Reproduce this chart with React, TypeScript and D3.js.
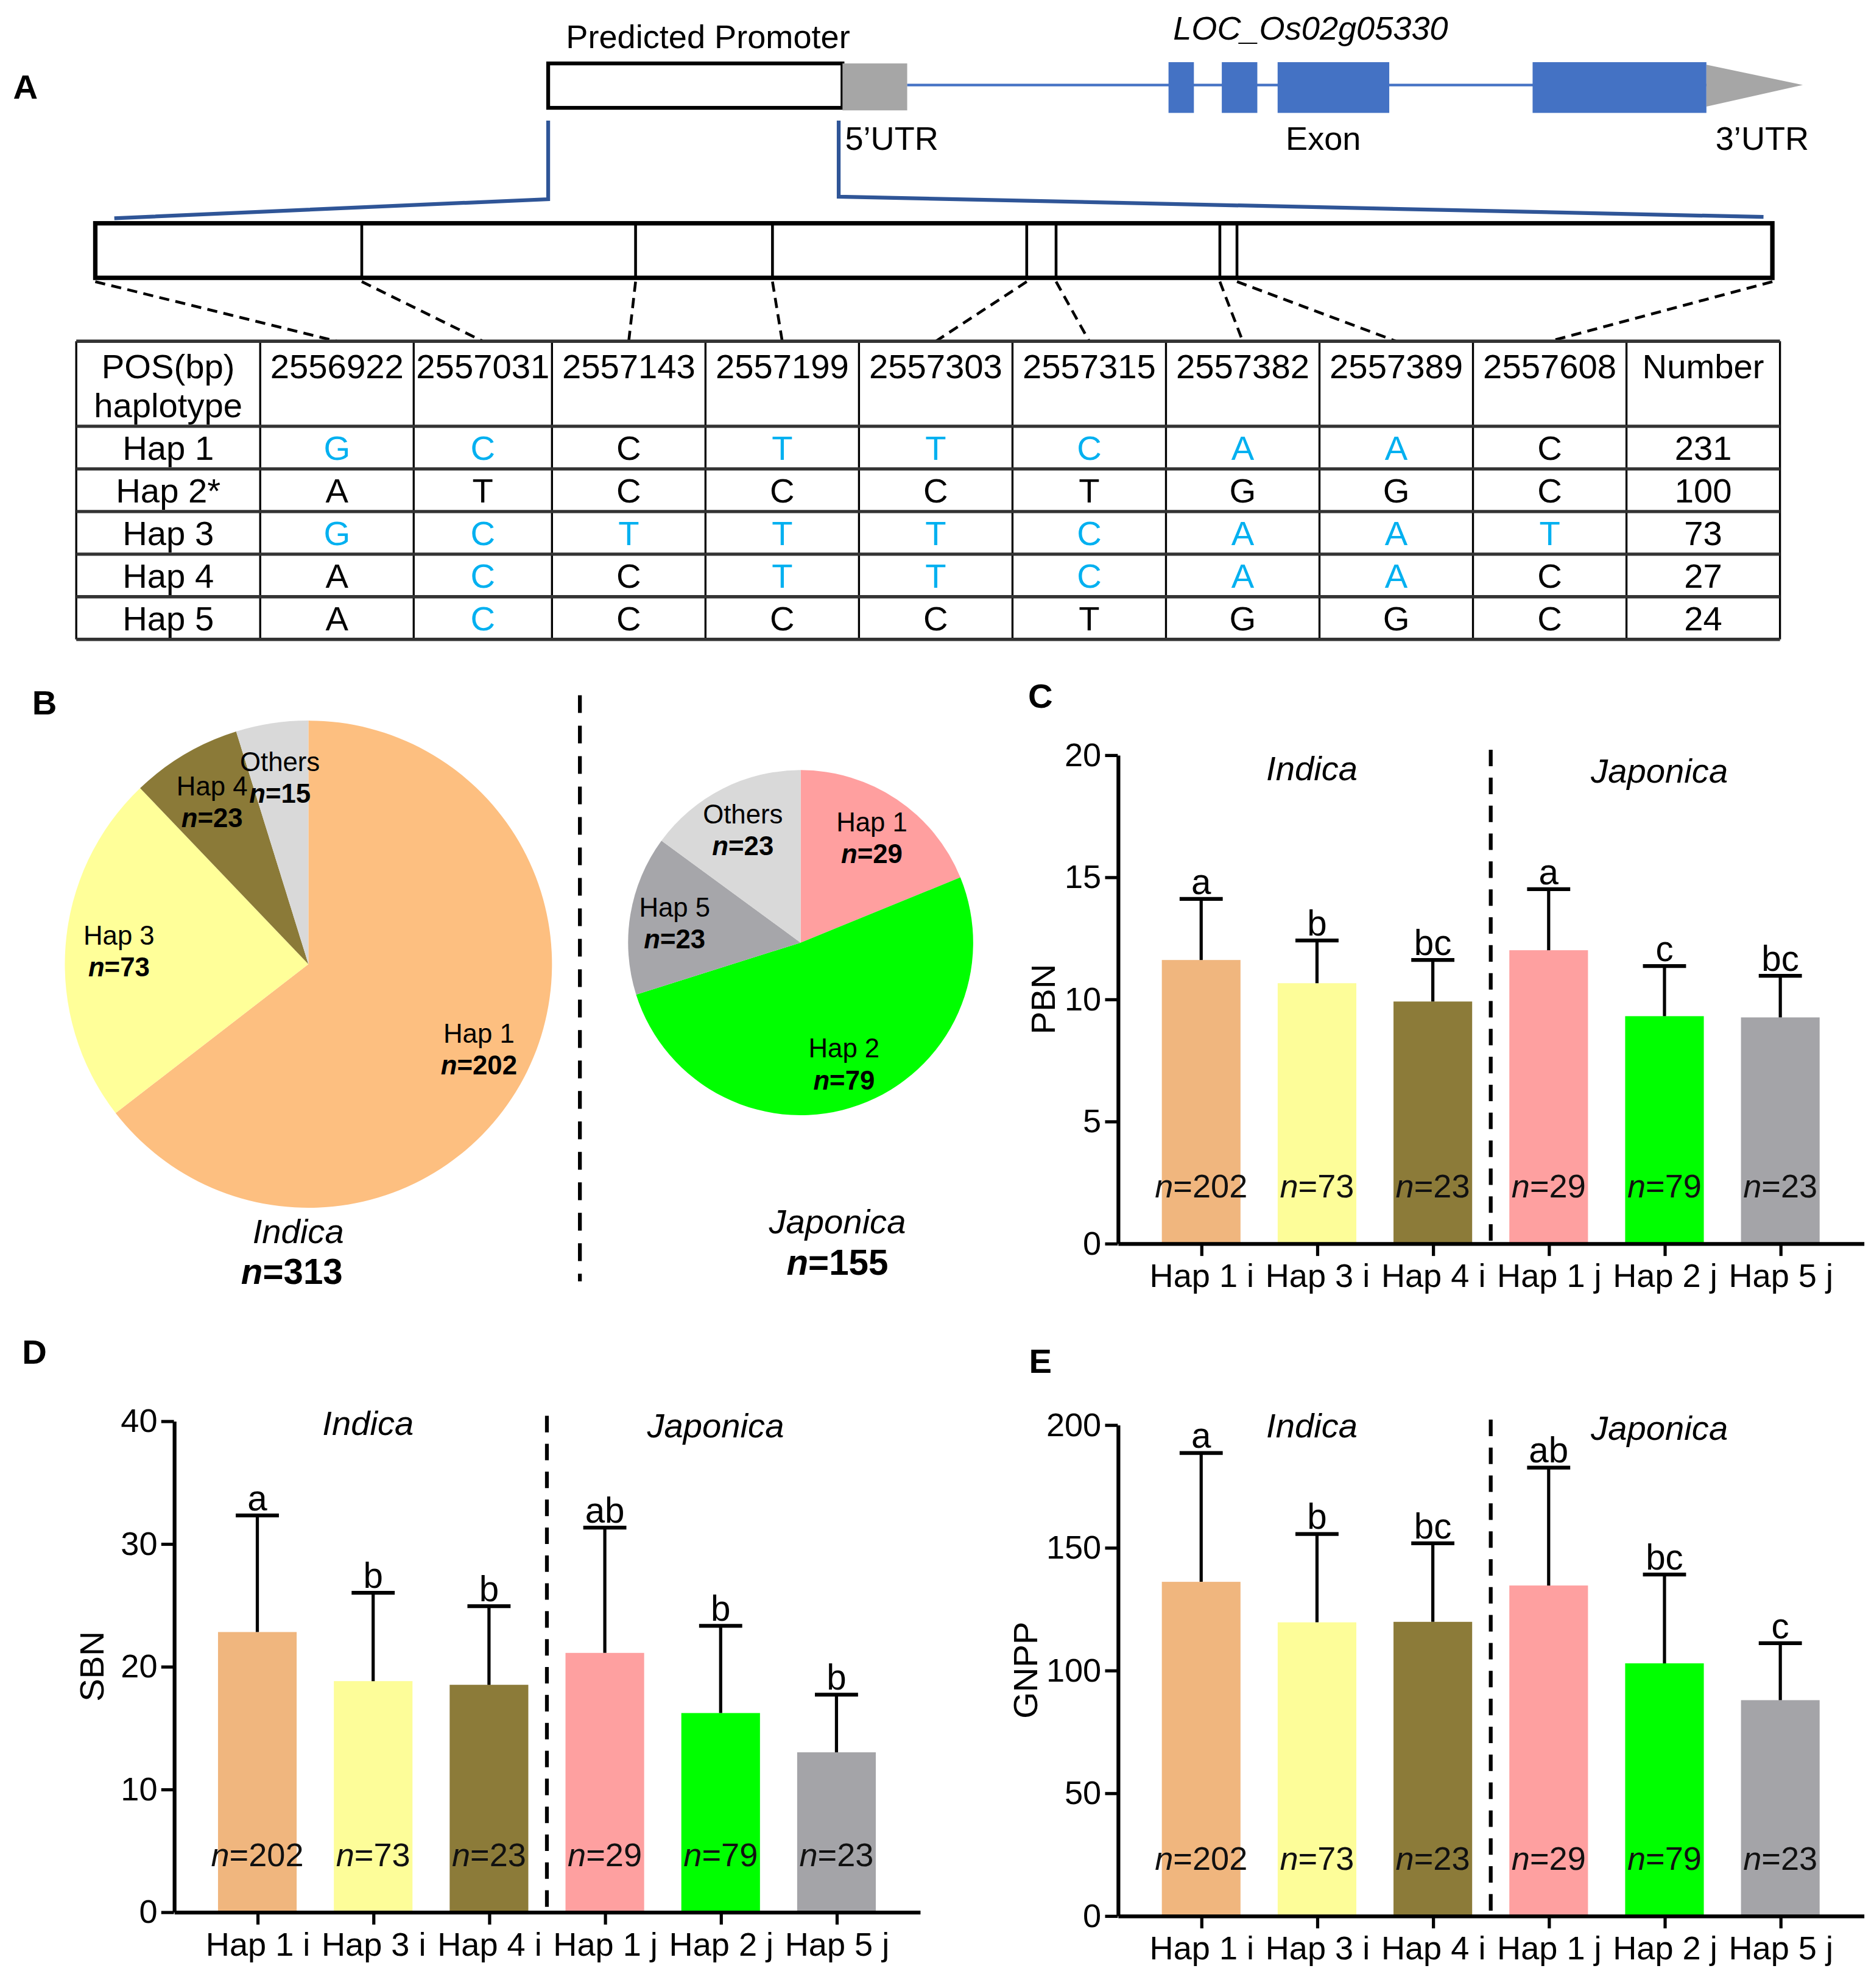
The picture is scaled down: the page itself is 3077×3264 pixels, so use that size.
import React, { useEffect, useRef } from 'react';
import * as d3 from 'd3';

// page is drawn in a 1477 x 1567 box and scaled up to the 3077 x 3264 window
const W = 1477;
const H = 1567;
const FONT = "'Liberation Sans', Arial, sans-serif";
const BLUE_TXT = '#00b0f0';

// ---- panel A: SNP table ----
const positions = [2556922, 2557031, 2557143, 2557199, 2557303, 2557315, 2557382, 2557389, 2557608];
const hapNames = ['Hap 1', 'Hap 2*', 'Hap 3', 'Hap 4', 'Hap 5'];
const hap1 = ['G', 'C', 'C', 'T', 'T', 'C', 'A', 'A', 'C'];
const hap2 = ['A', 'T', 'C', 'C', 'C', 'T', 'G', 'G', 'C'];
const hap3 = ['G', 'C', 'T', 'T', 'T', 'C', 'A', 'A', 'T'];
const hap4 = ['A', 'C', 'C', 'T', 'T', 'C', 'A', 'A', 'C'];
const hap5 = ['A', 'C', 'C', 'C', 'C', 'T', 'G', 'G', 'C'];
const hapCounts = [231, 100, 73, 27, 24];
const refIndex = 1; // Hap 2* is the reference, other alleles in blue

// ---- panel B: pies ----
const indicaLabels = ['Hap 1', 'Hap 3', 'Hap 4', 'Others'];
const indicaCounts = [202, 73, 23, 15];
const indicaColors = ['#fdbf80', '#ffff99', '#8b7a38', '#d9d9d9'];
const japonicaLabels = ['Hap 1', 'Hap 2', 'Hap 5', 'Others'];
const japonicaCounts = [29, 79, 23, 23];
const japonicaColors = ['#ff9f9f', '#00ff00', '#a6a6aa', '#d9d9d9'];

// ---- panels C-E: bars ----
const barCats = ['Hap 1 i', 'Hap 3 i', 'Hap 4 i', 'Hap 1 j', 'Hap 2 j', 'Hap 5 j'];
const barN = [202, 73, 23, 29, 79, 23];
const barColors = ['#f0b67e', '#fdfd99', '#8c7b39', '#fea0a0', '#00ff00', '#a4a4a8'];

const pbnMean = [11.6, 10.65, 9.9, 12.0, 9.3, 9.25];
const pbnSd = [2.5, 1.75, 1.7, 2.5, 2.05, 1.7];
const pbnLetters = ['a', 'b', 'bc', 'a', 'c', 'bc'];

const sbnMean = [22.8, 18.8, 18.5, 21.1, 16.2, 13.0];
const sbnSd = [9.5, 7.2, 6.4, 10.2, 7.1, 4.7];
const sbnLetters = ['a', 'b', 'b', 'ab', 'b', 'b'];

const gnppMean = [136, 119.5, 119.7, 134.5, 102.8, 87.8];
const gnppSd = [52.5, 36, 32, 48, 36.2, 23.2];
const gnppLetters = ['a', 'b', 'bc', 'ab', 'bc', 'c'];

type Sel = d3.Selection<SVGSVGElement, unknown, null, undefined>;

const nText = (sel: any, n: number) => {
  sel.append('tspan').attr('font-style', 'italic').text('n');
  sel.append('tspan').text('=' + n);
};

function drawGene(svg: Sel) {
  const g = svg.append('g');
  g.append('text').attr('x', 20).attr('y', 78).attr('font-size', 27).attr('font-weight', 'bold').attr('text-anchor', 'middle').text('A');

  g.append('rect').attr('x', 432).attr('y', 50).attr('width', 232).attr('height', 35)
    .attr('fill', '#fff').attr('stroke', '#000').attr('stroke-width', 3);
  g.append('rect').attr('x', 664).attr('y', 50).attr('width', 51).attr('height', 37).attr('fill', '#a6a6a6');
  g.append('line').attr('x1', 715).attr('x2', 1345).attr('y1', 67).attr('y2', 67).attr('stroke', '#4472c4').attr('stroke-width', 2);
  const exons = [[921, 941], [963, 991], [1007, 1095], [1208, 1345]];
  g.selectAll('rect.exon').data(exons).enter().append('rect').attr('class', 'exon')
    .attr('x', d => d[0]).attr('width', d => d[1] - d[0]).attr('y', 49).attr('height', 40).attr('fill', '#4472c4');
  g.append('path').attr('d', 'M1345,51 L1345,84 L1421,67 Z').attr('fill', '#a6a6a6');

  g.append('text').attr('x', 558).attr('y', 38).attr('font-size', 26).attr('text-anchor', 'middle').text('Predicted Promoter');
  g.append('text').attr('x', 1033).attr('y', 31).attr('font-size', 26).attr('font-style', 'italic').attr('text-anchor', 'middle').text('LOC_Os02g05330');
  g.append('text').attr('x', 666).attr('y', 118).attr('font-size', 26).text('5’UTR');
  g.append('text').attr('x', 1043).attr('y', 118).attr('font-size', 26).attr('text-anchor', 'middle').text('Exon');
  g.append('text').attr('x', 1389).attr('y', 118).attr('font-size', 26).attr('text-anchor', 'middle').text('3’UTR');

  // zoom connectors
  g.append('path').attr('d', 'M432,95 V157 L90,172').attr('fill', 'none').attr('stroke', '#2f5597').attr('stroke-width', 3);
  g.append('path').attr('d', 'M661,95 V155 L1390,171').attr('fill', 'none').attr('stroke', '#2f5597').attr('stroke-width', 3);

  // promoter box with SNP positions
  const px = d3.scaleLinear().domain([positions[0], positions[positions.length - 1]]).range([75, 1397]);
  g.append('rect').attr('x', px(positions[0])).attr('y', 176).attr('width', px(positions[8]) - px(positions[0])).attr('height', 43)
    .attr('fill', '#fff').attr('stroke', '#000').attr('stroke-width', 3.5);
  g.selectAll('line.snp').data(positions.slice(1, -1)).enter().append('line').attr('class', 'snp')
    .attr('x1', d => px(d)).attr('x2', d => px(d)).attr('y1', 176).attr('y2', 219).attr('stroke', '#000').attr('stroke-width', 2.2);
  return px;
}

function drawTable(svg: Sel, px: d3.ScaleLinear<number, number>) {
  const g = svg.append('g');
  const colW = [145, 121, 109, 121, 121, 121, 121, 121, 121, 121, 121];
  const edges = [60];
  colW.forEach(w => edges.push(edges[edges.length - 1] + w));
  const cx = (i: number) => (edges[i] + edges[i + 1]) / 2;
  const top = 269, headBottom = 336, bottom = 504;
  const rows = d3.scaleBand<string>().domain(hapNames).range([headBottom, bottom]);

  // dashed leaders from the promoter box to columns
  g.selectAll('line.lead').data(positions).enter().append('line').attr('class', 'lead')
    .attr('x1', d => px(d)).attr('y1', 222).attr('x2', (d, i) => cx(i + 1)).attr('y2', top)
    .attr('stroke', '#000').attr('stroke-width', 2.2).attr('stroke-dasharray', '8,5');

  // grid
  edges.forEach(x => g.append('line').attr('x1', x).attr('x2', x).attr('y1', top).attr('y2', bottom).attr('stroke', '#000').attr('stroke-width', 1.6));
  [top, headBottom, ...hapNames.map(h => (rows(h) as number) + rows.bandwidth())].forEach(y =>
    g.append('line').attr('x1', 60).attr('x2', edges[edges.length - 1]).attr('y1', y).attr('y2', y).attr('stroke', '#333').attr('stroke-width', 2.6));

  const fs = 27;
  g.append('text').attr('x', cx(0)).attr('y', 298).attr('font-size', fs).attr('text-anchor', 'middle').text('POS(bp)');
  g.append('text').attr('x', cx(0)).attr('y', 329).attr('font-size', fs).attr('text-anchor', 'middle').text('haplotype');
  positions.forEach((p, i) => g.append('text').attr('x', cx(i + 1)).attr('y', 298).attr('font-size', fs).attr('text-anchor', 'middle').text(p));
  g.append('text').attr('x', cx(10)).attr('y', 298).attr('font-size', fs).attr('text-anchor', 'middle').text('Number');

  const haps = [hap1, hap2, hap3, hap4, hap5];
  hapNames.forEach((h, r) => {
    const y = (rows(h) as number) + rows.bandwidth() / 2 + 9.5;
    g.append('text').attr('x', cx(0)).attr('y', y).attr('font-size', fs).attr('text-anchor', 'middle').text(h);
    haps[r].forEach((a, i) => g.append('text').attr('x', cx(i + 1)).attr('y', y).attr('font-size', fs).attr('text-anchor', 'middle')
      .attr('fill', a === haps[refIndex][i] ? '#000' : BLUE_TXT).text(a));
    g.append('text').attr('x', cx(10)).attr('y', y).attr('font-size', fs).attr('text-anchor', 'middle').text(hapCounts[r]);
  });
}

function drawPie(svg: Sel, cxp: number, cyp: number, r: number, labels: string[], counts: number[], colors: string[], lr: number) {
  const g = svg.append('g').attr('transform', `translate(${cxp},${cyp})`);
  const arcs = d3.pie<number>().sort(null).value(d => d)(counts);
  const arc = d3.arc<d3.PieArcDatum<number>>().innerRadius(0).outerRadius(r);
  const lab = d3.arc<d3.PieArcDatum<number>>().innerRadius(r * lr).outerRadius(r * lr);
  g.selectAll('path').data(arcs).enter().append('path').attr('d', arc).attr('fill', (d, i) => colors[i]);
  arcs.forEach((a, i) => {
    const [x, y] = lab.centroid(a);
    g.append('text').attr('x', x).attr('y', y - 4).attr('font-size', 21).attr('text-anchor', 'middle').text(labels[i]);
    const t = g.append('text').attr('x', x).attr('y', y + 21).attr('font-size', 21).attr('font-weight', 'bold').attr('text-anchor', 'middle');
    nText(t, counts[i]);
  });
}

function drawPies(svg: Sel) {
  svg.append('text').attr('x', 35).attr('y', 563).attr('font-size', 27).attr('font-weight', 'bold').attr('text-anchor', 'middle').text('B');
  drawPie(svg, 243, 760, 192, indicaLabels, indicaCounts, indicaColors, 0.78);
  drawPie(svg, 631, 743, 136, japonicaLabels, japonicaCounts, japonicaColors, 0.74);
  svg.append('text').attr('x', 235).attr('y', 980).attr('font-size', 27).attr('font-style', 'italic').attr('text-anchor', 'middle').text('Indica');
  nText(svg.append('text').attr('x', 230).attr('y', 1012).attr('font-size', 28).attr('font-weight', 'bold').attr('text-anchor', 'middle'), d3.sum(indicaCounts));
  svg.append('text').attr('x', 660).attr('y', 972).attr('font-size', 27).attr('font-style', 'italic').attr('text-anchor', 'middle').text('Japonica');
  nText(svg.append('text').attr('x', 660).attr('y', 1005).attr('font-size', 28).attr('font-weight', 'bold').attr('text-anchor', 'middle'), 155);
  svg.append('line').attr('x1', 457).attr('x2', 457).attr('y1', 548).attr('y2', 1010)
    .attr('stroke', '#000').attr('stroke-width', 3).attr('stroke-dasharray', '14,10');
}

interface BarCfg {
  letter: string; lx: number; ly: number;
  axisX: number; bottom: number; top: number; max: number; step: number;
  yLabel: string; yLabelDx: number; groupDy: number;
}

function drawBars(svg: Sel, cfg: BarCfg, mean: number[], sd: number[], letters: string[]) {
  const g = svg.append('g');
  g.append('text').attr('x', cfg.lx).attr('y', cfg.ly).attr('font-size', 27).attr('font-weight', 'bold').attr('text-anchor', 'middle').text(cfg.letter);

  const y = d3.scaleLinear().domain([0, cfg.max]).range([cfg.bottom, cfg.top]);
  const x = d3.scalePoint<string>().domain(barCats).range([cfg.axisX, cfg.axisX + 588]).padding(0.72);
  const bw = 62, cap = 34;

  g.selectAll('rect.bar').data(mean).enter().append('rect').attr('class', 'bar')
    .attr('x', (d, i) => (x(barCats[i]) as number) - bw / 2).attr('width', bw)
    .attr('y', d => y(d)).attr('height', d => cfg.bottom - y(d)).attr('fill', (d, i) => barColors[i]);

  mean.forEach((m, i) => {
    const c = x(barCats[i]) as number;
    const t = y(m + sd[i]);
    g.append('line').attr('x1', c).attr('x2', c).attr('y1', y(m)).attr('y2', t).attr('stroke', '#000').attr('stroke-width', 2.5);
    g.append('line').attr('x1', c - cap / 2).attr('x2', c + cap / 2).attr('y1', t).attr('y2', t).attr('stroke', '#000').attr('stroke-width', 3);
    g.append('text').attr('x', c).attr('y', t - 4).attr('font-size', 28).attr('text-anchor', 'middle').text(letters[i]);
    nText(g.append('text').attr('x', c).attr('y', cfg.bottom - 36).attr('font-size', 26).attr('text-anchor', 'middle').attr('fill', '#111'), barN[i]);
  });

  const ya = g.append('g').attr('transform', `translate(${cfg.axisX},0)`)
    .call(d3.axisLeft(y).ticks(4).tickSize(10).tickSizeOuter(0).tickPadding(3));
  const xa = g.append('g').attr('transform', `translate(0,${cfg.bottom})`)
    .call(d3.axisBottom(x).tickSize(10).tickSizeOuter(0).tickPadding(6));
  [ya, xa].forEach(a => {
    a.select('.domain').attr('stroke-width', 3);
    a.selectAll('.tick line').attr('stroke-width', 2.5);
    a.selectAll('.tick text').attr('font-size', 26).attr('font-family', FONT).attr('fill', '#000');
  });

  const mid = ((x(barCats[2]) as number) + (x(barCats[3]) as number)) / 2;
  g.append('line').attr('x1', mid).attr('x2', mid).attr('y1', cfg.top - 4).attr('y2', cfg.bottom)
    .attr('stroke', '#000').attr('stroke-width', 3).attr('stroke-dasharray', '13,9');

  g.append('text').attr('x', (x(barCats[1]) as number) - 4).attr('y', cfg.top + cfg.groupDy).attr('font-size', 27).attr('font-style', 'italic').attr('text-anchor', 'middle').text('Indica');
  g.append('text').attr('x', (x(barCats[4]) as number) - 4).attr('y', cfg.top + cfg.groupDy + 2).attr('font-size', 27).attr('font-style', 'italic').attr('text-anchor', 'middle').text('Japonica');

  g.append('text').attr('transform', `translate(${cfg.axisX - cfg.yLabelDx},${(cfg.top + cfg.bottom) / 2}) rotate(-90)`)
    .attr('dy', '0.35em').attr('font-size', 27).attr('text-anchor', 'middle').text(cfg.yLabel);
}

const App: React.FC = () => {
  const ref = useRef<SVGSVGElement>(null);

  useEffect(() => {
    if (!ref.current) return;
    const svg = d3.select(ref.current) as Sel;
    svg.selectAll('*').remove();
    svg.append('rect').attr('width', W).attr('height', H).attr('fill', '#fff');

    const px = drawGene(svg);
    drawTable(svg, px);
    drawPies(svg);
    drawBars(svg, { letter: 'C', lx: 820, ly: 558, axisX: 881, bottom: 980, top: 595, max: 20, step: 5, yLabel: 'PBN', yLabelDx: 59, groupDy: 20 }, pbnMean, pbnSd, pbnLetters);
    drawBars(svg, { letter: 'D', lx: 27, ly: 1075, axisX: 137, bottom: 1507, top: 1120, max: 40, step: 10, yLabel: 'SBN', yLabelDx: 65, groupDy: 11 }, sbnMean, sbnSd, sbnLetters);
    drawBars(svg, { letter: 'E', lx: 820, ly: 1082, axisX: 881, bottom: 1510, top: 1123, max: 200, step: 50, yLabel: 'GNPP', yLabelDx: 73, groupDy: 10 }, gnppMean, gnppSd, gnppLetters);
  }, []);

  return (
    <svg ref={ref} width={3077} height={3264} viewBox={`0 0 ${W} ${H}`}
      style={{ position: 'absolute', left: 0, top: 0, fontFamily: FONT }} />
  );
};

export default App;
